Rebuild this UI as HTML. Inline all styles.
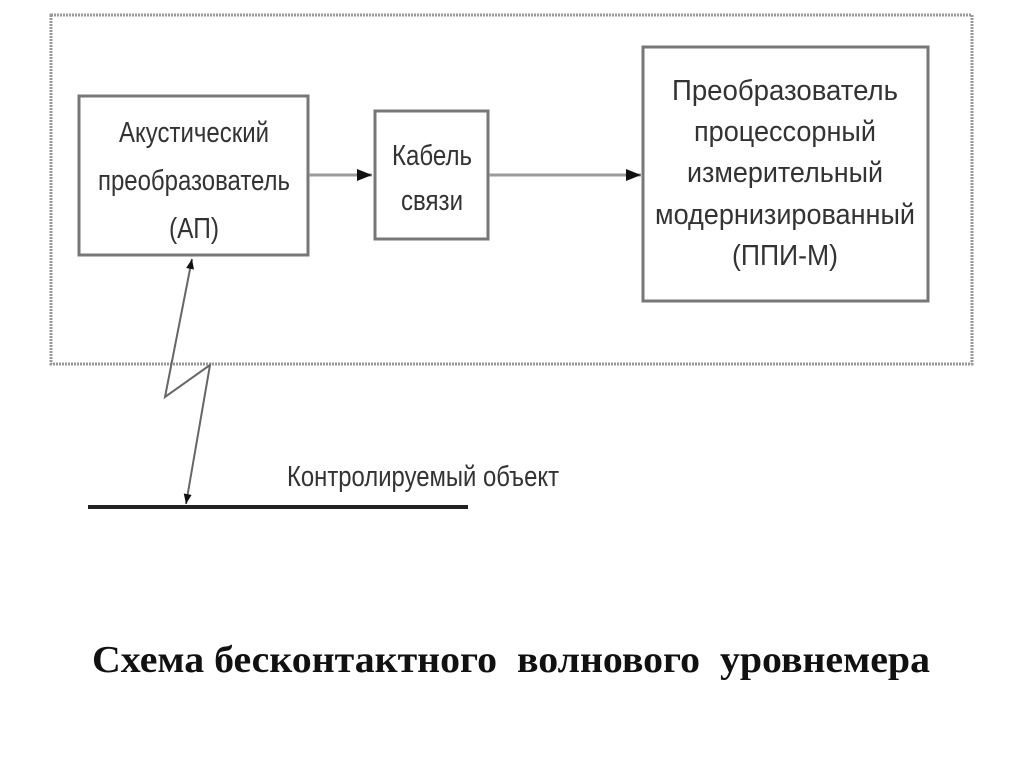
<!DOCTYPE html>
<html><head><meta charset="utf-8"><style>body{margin:0;background:#fff}svg{display:block}</style></head><body>
<svg width="1024" height="767" viewBox="0 0 1024 767" xmlns="http://www.w3.org/2000/svg" font-family="Liberation Sans, sans-serif">
<defs><marker id="a" viewBox="0 0 10 10" refX="10" refY="5" markerWidth="5" markerHeight="5" orient="auto-start-reverse"><path d="M0,1 L10,5 L0,9 z" fill="#111"/></marker></defs>
<rect x="51" y="15" width="921" height="349" fill="none" stroke="#999" stroke-width="3" stroke-dasharray="2 1"/>
<rect x="79" y="96" width="229" height="159" fill="#fff" stroke="#777" stroke-width="3"/>
<rect x="375" y="111" width="113" height="128" fill="#fff" stroke="#777" stroke-width="3"/>
<rect x="643" y="47" width="285" height="254" fill="#fff" stroke="#777" stroke-width="3"/>
<line x1="309" y1="175" x2="372" y2="175" stroke="#999" stroke-width="3" marker-end="url(#a)"/>
<line x1="489" y1="175" x2="641" y2="175" stroke="#999" stroke-width="3" marker-end="url(#a)"/>
<polyline points="192,259 165,397 210,365 186,504" fill="none" stroke="#666" stroke-width="2" marker-start="url(#a)" marker-end="url(#a)"/>
<line x1="88" y1="507" x2="468" y2="507" stroke="#222" stroke-width="4"/>
<g fill="#333" font-size="29" text-anchor="middle">
<text x="194" y="142" textLength="150" lengthAdjust="spacingAndGlyphs">Акустический</text>
<text x="194" y="190" textLength="192" lengthAdjust="spacingAndGlyphs">преобразователь</text>
<text x="194" y="238" textLength="50" lengthAdjust="spacingAndGlyphs">(АП)</text>
<text x="432" y="165" textLength="80" lengthAdjust="spacingAndGlyphs">Кабель</text>
<text x="432" y="210" textLength="62" lengthAdjust="spacingAndGlyphs">связи</text>
<text x="785" y="100" textLength="226" lengthAdjust="spacingAndGlyphs">Преобразователь</text>
<text x="785" y="141" textLength="182" lengthAdjust="spacingAndGlyphs">процессорный</text>
<text x="785" y="182" textLength="196" lengthAdjust="spacingAndGlyphs">измерительный</text>
<text x="785" y="224" textLength="260" lengthAdjust="spacingAndGlyphs">модернизированный</text>
<text x="785" y="265" textLength="106" lengthAdjust="spacingAndGlyphs">(ППИ-М)</text>
<text x="423" y="486" textLength="272" lengthAdjust="spacingAndGlyphs">Контролируемый объект</text>
</g>
<text x="511" y="672" font-family="Liberation Serif, serif" font-weight="bold" font-size="38" text-anchor="middle" fill="#111" textLength="838" lengthAdjust="spacingAndGlyphs" xml:space="preserve">Схема бесконтактного  волнового  уровнемера</text>
</svg>
</body></html>
